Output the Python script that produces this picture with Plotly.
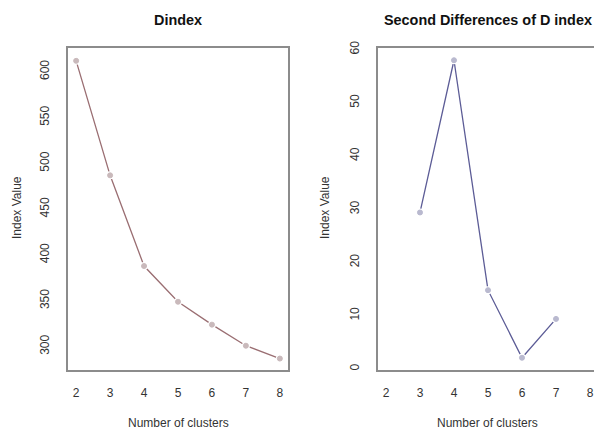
import plotly.graph_objects as go

# Data
clusters_d = [2, 3, 4, 5, 6, 7, 8]
dindex = [612, 487, 388, 349, 324, 301, 287]
clusters_sd = [3, 4, 5, 6, 7]
second_diff = [29.4, 58.0, 14.8, 2.1, 9.4]
x_ticks = [2, 3, 4, 5, 6, 7, 8]
y_ticks_left = [300, 350, 400, 450, 500, 550, 600]
y_ticks_right = [0, 10, 20, 30, 40, 50, 60]

W, H = 594, 430
L, T = 68, 48
B = H - 370
R = 0
pw, ph = W - L - R, H - T - B

def px(xs):  # screen px -> paper
    return (xs - L) / pw

def py(ys):
    return (T + ph - ys) / ph

font = "Liberation Sans, Arial, sans-serif"
box_col = "#8c8c8c"
txt_col = "#333333"

fig = go.Figure()

def add_series(x, y, xa, ya, lcol, mcol):
    fig.add_trace(go.Scatter(x=x, y=y, mode="lines", xaxis=xa, yaxis=ya,
                             line=dict(color=lcol, width=1.3), hoverinfo="skip"))
    fig.add_trace(go.Scatter(x=x, y=y, mode="markers", xaxis=xa, yaxis=ya,
                             marker=dict(symbol="circle", size=8, color="white",
                                         line=dict(width=0)), hoverinfo="skip"))
    fig.add_trace(go.Scatter(x=x, y=y, mode="markers", xaxis=xa, yaxis=ya,
                             marker=dict(symbol="circle", size=5, color=mcol,
                                         line=dict(color=mcol, width=1))))

add_series(clusters_d, dindex, "x", "y", "#9a6e72", "#c9b9bb")
add_series(clusters_sd, second_diff, "x2", "y2", "#5c5c96", "#b9b9cf")

axis_common = dict(showgrid=False, zeroline=False, ticks="",
                   tickfont=dict(family=font, size=12, color=txt_col),
                   showline=True, linecolor=box_col, linewidth=1.5)

fig.update_layout(
    width=W, height=H,
    margin=dict(l=L, r=R, t=T, b=B),
    paper_bgcolor="white", plot_bgcolor="white",
    showlegend=False,
    xaxis=dict(domain=[0, px(288)], range=[1.76, 8.24], tickvals=x_ticks,
               anchor="y", mirror=True, ticklabelstandoff=11, **axis_common),
    yaxis=dict(domain=[0, 1], range=[274.5, 626], tickvals=y_ticks_left,
               tickangle=-90, anchor="x", mirror=True, ticklabelstandoff=12,
               **axis_common),
    # right panel box runs past the window edge (to x=598), so it is cut there
    xaxis2=dict(domain=[px(378), 1], range=[1.765, 2 + (594 - 386) / 34],
                tickvals=x_ticks, anchor="y2", mirror=True, ticklabelstandoff=11,
                ticklabeloverflow="allow", **axis_common),
    yaxis2=dict(domain=[0, 1], range=[-0.2, 60.3], tickvals=y_ticks_right,
                tickangle=-90, anchor="x2", mirror=False, ticklabelstandoff=12,
                **axis_common),
)

def note(text, xs, ys, size, color, angle=0):
    return dict(text=text, x=px(xs), y=py(ys), xref="paper", yref="paper",
                xanchor="center", yanchor="middle", showarrow=False,
                textangle=angle, font=dict(family=font, size=size, color=color))

ann = [
    note("<b>Dindex</b>", 178, 20, 14.4, "#111"),
    note("<b>Second Differences of D index</b>", 488, 20, 14.4, "#111"),
    note("Number of clusters", 178, 423, 12, txt_col),
    note("Number of clusters", 487, 423, 12, txt_col),
    note("Index Value", 17, 208, 12, txt_col, -90),
    note("Index Value", 325, 208, 12, txt_col, -90),
]
fig.update_layout(annotations=ann)

fig.write_html("out.html", config={"displayModeBar": False},
               post_script="document.body.style.margin='0px';")
